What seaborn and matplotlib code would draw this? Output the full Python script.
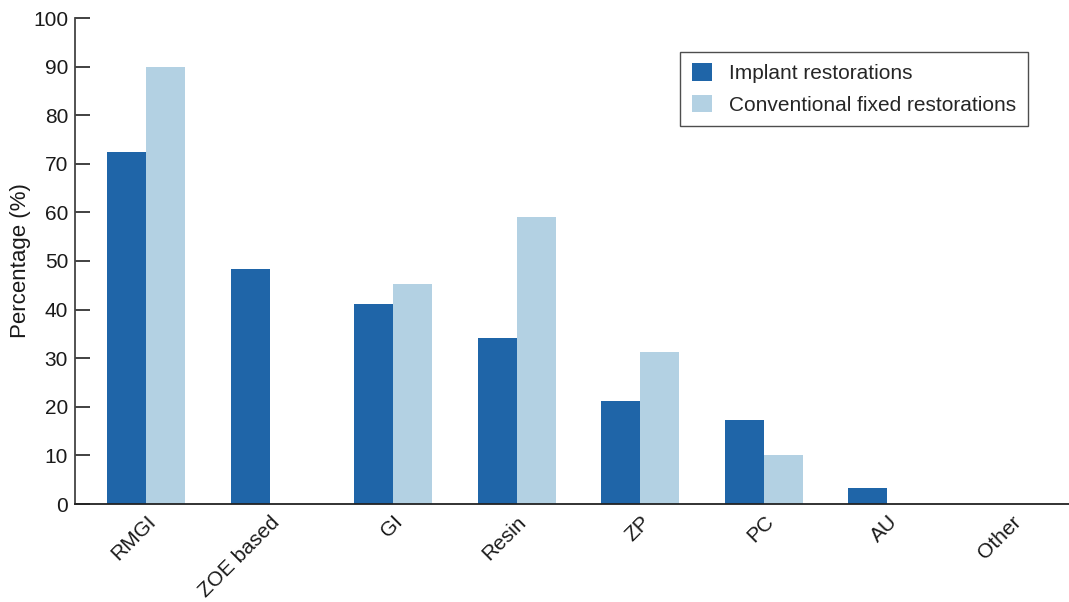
import numpy as np
import pandas as pd
import seaborn as sns
import matplotlib.pyplot as plt

# ===== DATA =====
cements = ["RMGI", "ZOE based", "GI", "Resin", "ZP", "PC", "AU", "Other"]
implant = [72.5, 48.3, 41.1, 34.2, 21.2, 17.3, 3.3, 0]
conventional = [90.0, 0, 45.3, 59.0, 31.3, 10.1, 0, 0]
groups = ["Implant restorations", "Conventional fixed restorations"]
colors = ["#1f65a8", "#b3d1e3"]

df = pd.DataFrame({
    "cement": cements * 2,
    "pct": implant + conventional,
    "group": [groups[0]] * len(cements) + [groups[1]] * len(cements),
})

# ===== STYLE =====
sns.set_theme(style="ticks")
plt.rcParams["font.family"] = ["Liberation Sans", "DejaVu Sans"]

fig = plt.figure(figsize=(10.69, 6.02), dpi=100)
ax = fig.add_axes([75 / 1069, 1 - 504 / 602, 1 - 75 / 1069, (504 - 18) / 602])

sns.barplot(data=df, x="cement", y="pct", hue="group", hue_order=groups,
            palette=colors, width=0.63, saturation=1, linewidth=0, ax=ax)

# ===== AXES =====
ax.set_ylim(0, 100)
ax.set_xlim(-0.575, 7.47)
ax.set_yticks(np.arange(0, 101, 10))
ax.set_ylabel("Percentage (%)", fontsize=16, color="#1a1a1a")
ax.yaxis.set_label_coords(-0.044, 0.5)
ax.set_xlabel("")
ax.tick_params(axis="y", direction="in", length=11, width=1.3, color="#333333",
               labelsize=15, labelcolor="#1a1a1a", pad=5)
ax.tick_params(axis="x", length=0, labelsize=15, labelcolor="#1a1a1a", pad=6)
for lab in ax.get_xticklabels():
    lab.set_rotation(45)
    lab.set_ha("right")
    lab.set_rotation_mode("anchor")

sns.despine(ax=ax, top=True, right=True)
ax.spines["left"].set_color("#444444")
ax.spines["left"].set_linewidth(1.3)
ax.spines["bottom"].set_color("#222222")
ax.spines["bottom"].set_linewidth(1.3)

# ===== LEGEND =====
leg = ax.legend(loc="upper right", bbox_to_anchor=(1028 / 1069, 1 - 52 / 602),
                bbox_transform=fig.transFigure, fontsize=15, frameon=True,
                fancybox=False, edgecolor="#222222", handlelength=0.95,
                handleheight=0.9, handletextpad=0.85, borderpad=0.55,
                labelspacing=0.55, borderaxespad=0)
leg.get_frame().set_linewidth(1.0)

plt.savefig("out.png", dpi=100)
